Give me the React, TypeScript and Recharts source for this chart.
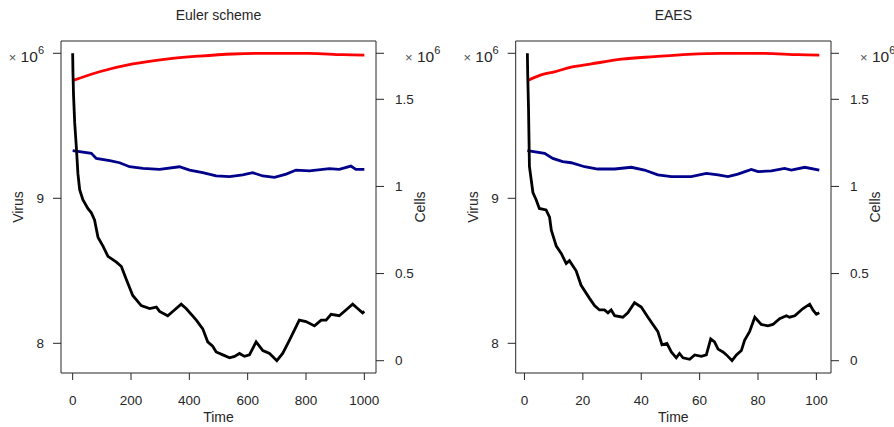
import { Label, Line, LineChart, ReferenceArea, XAxis, YAxis } from "recharts";

type Series = [number, number][];

const FONT = '"Liberation Sans", Arial, Helvetica, sans-serif';
const INK = "#262626";
const PANEL_W = 447;
const PANEL_H = 427;
const PLOT_TOP = 41;
const X_AXIS_H = 40;
const Y_AXIS_W = 50;

// Euler scheme, time 0..1000, values in units of 10^6
const eulerVirus: Series = [
  [0, 10.0], [1, 9.87], [3, 9.71], [7, 9.52], [13, 9.34], [18, 9.17], [24, 9.06], [35, 8.99],
  [52, 8.93], [64, 8.9], [75, 8.85], [87, 8.73], [104, 8.67], [121, 8.6], [150, 8.56], [167, 8.53],
  [184, 8.44], [206, 8.33], [235, 8.26], [264, 8.24], [287, 8.25], [298, 8.22], [326, 8.19],
  [349, 8.23], [372, 8.27], [389, 8.24], [424, 8.16], [446, 8.1], [463, 8.01], [480, 7.98],
  [492, 7.94], [515, 7.92], [538, 7.9], [555, 7.91], [572, 7.93], [589, 7.91], [606, 7.92],
  [629, 8.01], [652, 7.95], [675, 7.93], [700, 7.88], [720, 7.93], [743, 8.02], [777, 8.16],
  [800, 8.15], [829, 8.12], [852, 8.16], [869, 8.16], [886, 8.2], [914, 8.19], [937, 8.23],
  [960, 8.27], [977, 8.24], [994, 8.21], [1000, 8.22],
];
const eulerHealthy: Series = [
  [0, 1.607], [92, 1.658], [206, 1.703], [321, 1.731], [435, 1.748], [549, 1.76], [663, 1.764],
  [812, 1.764], [926, 1.756], [1000, 1.754],
];
const eulerInfected: Series = [
  [0, 1.205], [64, 1.19], [81, 1.161], [127, 1.148], [161, 1.136], [195, 1.113], [241, 1.104],
  [298, 1.098], [366, 1.113], [401, 1.094], [446, 1.079], [492, 1.06], [538, 1.056], [583, 1.066],
  [617, 1.079], [652, 1.06], [692, 1.052], [732, 1.071], [766, 1.094], [812, 1.089], [880, 1.102],
  [914, 1.098], [954, 1.117], [971, 1.098], [1000, 1.098],
];

// EAES, time 1..101
const eaesVirus: Series = [
  [1, 10.0], [1.1, 9.87], [1.4, 9.61], [1.7, 9.22], [2.9, 9.04], [4, 8.99], [5.1, 8.93],
  [7.4, 8.92], [8.6, 8.87], [9.2, 8.78], [10.9, 8.67], [12.6, 8.62], [14.3, 8.55], [15.4, 8.57],
  [17.7, 8.5], [19.4, 8.4], [22.3, 8.31], [24, 8.26], [25.7, 8.23], [27.4, 8.23], [28.6, 8.21],
  [29.7, 8.23], [30.9, 8.19], [33.7, 8.18], [35.4, 8.21], [37.7, 8.28], [40, 8.25], [42.3, 8.18],
  [45.7, 8.08], [47.1, 7.99], [48.8, 8.0], [50.3, 7.94], [52, 7.9], [53.1, 7.93], [54.3, 7.9],
  [56.6, 7.89], [58.3, 7.92], [60.6, 7.91], [62.3, 7.92], [63.8, 8.03], [65.1, 8.01], [66.3, 7.96],
  [68, 7.94], [69.2, 7.92], [71.1, 7.88], [72.6, 7.92], [74.3, 7.95], [75.4, 8.02], [77.1, 8.08],
  [78.9, 8.18], [81.1, 8.13], [83.4, 8.12], [85.1, 8.13], [87.4, 8.17], [89.7, 8.19], [90.8, 8.18],
  [92.6, 8.19], [95.4, 8.24], [97.7, 8.27], [98.8, 8.23], [100, 8.2], [101, 8.21],
];
const eaesHealthy: Series = [
  [1, 1.607], [5.7, 1.64], [10.3, 1.658], [16, 1.684], [22.9, 1.703], [33.2, 1.73], [44.6, 1.745],
  [56, 1.758], [67.4, 1.764], [82.3, 1.764], [93.7, 1.756], [101, 1.754],
];
const eaesInfected: Series = [
  [1, 1.205], [6.9, 1.19], [9.7, 1.161], [13.1, 1.142], [16, 1.136], [20.6, 1.113], [25.1, 1.1],
  [30.9, 1.1], [36.6, 1.11], [41.1, 1.094], [45.7, 1.066], [50.3, 1.056], [57.1, 1.056],
  [62.3, 1.075], [66.3, 1.066], [69.7, 1.056], [73.1, 1.071], [77.7, 1.098], [80, 1.085],
  [84.6, 1.089], [89.1, 1.104], [91.4, 1.094], [96, 1.11], [101, 1.094],
];

const eulerTimeTicks = [0, 200, 400, 600, 800, 1000];
const eaesTimeTicks = [0, 20, 40, 60, 80, 100];
const virusTicks = [8, 9];
const cellTicks = [0, 0.5, 1, 1.5];

const rows = (s: Series) => s.map(([t, v]) => ({ t, v }));
const values = (s: Series) => s.map((p) => p[1]);

// 4% padding beyond the data range, like base R plots
const pad = (lo: number, hi: number): [number, number] => {
  const d = (hi - lo) * 0.04;
  return [lo - d, hi + d];
};

const textStyle = { fill: INK, fontFamily: FONT };

// "× 10^6" scale marker drawn next to the top tick of each axis
function ScaleMark({ x, y, anchor }: { x: number; y: number; anchor: "start" | "end" }) {
  return (
    <text x={x} y={y + 9} textAnchor={anchor} fontSize={15.5} {...textStyle}>
      <tspan fontSize={13} fill="#555">×</tspan> 10
      <tspan dy={-8} fontSize={11}>6</tspan>
    </text>
  );
}

interface PanelProps {
  title: string;
  virus: Series;
  healthy: Series;
  infected: Series;
  timeRange: [number, number];
  timeTicks: number[];
  plotLeft: number;
  plotRight: number;
}

function Panel({ title, virus, healthy, infected, timeRange, timeTicks, plotLeft, plotRight }: PanelProps) {
  const vMax = Math.max(...values(virus));
  const vMin = Math.min(...values(virus));
  const cMax = Math.max(...values(healthy));
  const timeDomain = pad(timeRange[0], timeRange[1]);
  const virusDomain = pad(vMin, vMax);
  const cellDomain = pad(0, cMax);

  const virusTick = (p: any) =>
    p.payload.value === vMax ? (
      <ScaleMark x={p.x} y={p.y} anchor="end" />
    ) : (
      <text x={p.x} y={p.y} dy="0.355em" textAnchor="end" fontSize={13.5} {...textStyle}>
        {p.payload.value}
      </text>
    );

  const cellTick = (p: any) =>
    p.payload.value === cMax ? (
      <ScaleMark x={p.x + 10} y={p.y} anchor="start" />
    ) : (
      <text x={p.x} y={p.y} dy="0.355em" textAnchor="start" fontSize={13.5} {...textStyle}>
        {p.payload.value}
      </text>
    );

  const sideTitle = (text: string, offset: number) => (p: any) => {
    const vb = p.viewBox;
    const cx = offset < 0 ? vb.x + vb.width + offset : vb.x + offset;
    const cy = vb.y + vb.height / 2;
    return (
      <text
        x={cx}
        y={cy}
        dy="0.355em"
        textAnchor="middle"
        transform={`rotate(-90 ${cx} ${cy})`}
        fontSize={14}
        {...textStyle}
      >
        {text}
      </text>
    );
  };

  return (
    <LineChart
      width={PANEL_W}
      height={PANEL_H}
      margin={{
        top: PLOT_TOP,
        bottom: PANEL_H - 373 - X_AXIS_H,
        left: plotLeft - Y_AXIS_W,
        right: PANEL_W - plotRight - Y_AXIS_W,
      }}
    >
      <XAxis
        dataKey="t"
        type="number"
        domain={timeDomain}
        ticks={timeTicks}
        interval={0}
        allowDataOverflow
        axisLine={false}
        tickLine={{ stroke: INK }}
        tickSize={7}
        tickMargin={15}
        height={X_AXIS_H}
        tick={{ fontSize: 13.5, ...textStyle }}
      >
        <Label
          content={(p: any) => (
            <text
              x={p.viewBox.x + p.viewBox.width / 2}
              y={p.viewBox.y + 49}
              textAnchor="middle"
              fontSize={14}
              {...textStyle}
            >
              Time
            </text>
          )}
        />
      </XAxis>
      <YAxis
        yAxisId="virus"
        orientation="left"
        type="number"
        domain={virusDomain}
        ticks={[...virusTicks, vMax]}
        interval={0}
        allowDataOverflow
        width={Y_AXIS_W}
        axisLine={false}
        tickLine={{ stroke: INK }}
        tickSize={8}
        tickMargin={9}
        tick={virusTick}
      >
        <Label content={sideTitle("Virus", -43)} />
      </YAxis>
      <YAxis
        yAxisId="cells"
        orientation="right"
        type="number"
        domain={cellDomain}
        ticks={[...cellTicks, cMax]}
        interval={0}
        allowDataOverflow
        width={Y_AXIS_W}
        axisLine={false}
        tickLine={{ stroke: INK }}
        tickSize={8}
        tickMargin={11}
        tick={cellTick}
      >
        <Label content={sideTitle("Cells", 44)} />
      </YAxis>
      <ReferenceArea
        yAxisId="virus"
        x1={timeDomain[0]}
        x2={timeDomain[1]}
        y1={virusDomain[0]}
        y2={virusDomain[1]}
        fill="none"
        stroke={INK}
        strokeWidth={1}
        ifOverflow="visible"
        label={
          <Label
            content={(p: any) => (
              <text
                x={p.viewBox.x + p.viewBox.width / 2}
                y={p.viewBox.y - 21}
                textAnchor="middle"
                fontSize={14}
                {...textStyle}
              >
                {title}
              </text>
            )}
          />
        }
      />
      <Line
        data={rows(healthy)}
        dataKey="v"
        yAxisId="cells"
        type="monotone"
        stroke="#ff0000"
        strokeWidth={2.8}
        dot={false}
        isAnimationActive={false}
      />
      <Line
        data={rows(infected)}
        dataKey="v"
        yAxisId="cells"
        type="linear"
        stroke="#00008b"
        strokeWidth={2.8}
        dot={false}
        isAnimationActive={false}
      />
      <Line
        data={rows(virus)}
        dataKey="v"
        yAxisId="virus"
        type="linear"
        stroke="#000000"
        strokeWidth={2.8}
        dot={false}
        isAnimationActive={false}
      />
    </LineChart>
  );
}

export default function App() {
  return (
    <div
      style={{
        position: "absolute",
        left: 0,
        top: 0,
        width: 894,
        height: 427,
        display: "flex",
        background: "#fff",
      }}
    >
      <Panel
        title="Euler scheme"
        virus={eulerVirus}
        healthy={eulerHealthy}
        infected={eulerInfected}
        timeRange={[0, 1000]}
        timeTicks={eulerTimeTicks}
        plotLeft={61}
        plotRight={376}
      />
      <Panel
        title="EAES"
        virus={eaesVirus}
        healthy={eaesHealthy}
        infected={eaesInfected}
        timeRange={[1, 101]}
        timeTicks={eaesTimeTicks}
        plotLeft={68.7}
        plotRight={384}
      />
    </div>
  );
}
